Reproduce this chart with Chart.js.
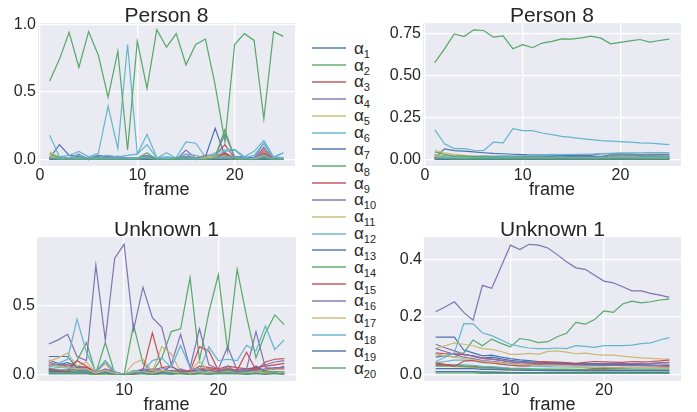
<!DOCTYPE html>
<html>
<head>
<meta charset="utf-8">
<script src="https://cdn.jsdelivr.net/npm/chart.js@4/dist/chart.umd.min.js"></script>
<style>
  body { margin: 0; width: 697px; height: 412px; overflow: hidden; position: relative; background: #fff;
         font-family: "Liberation Sans", Arial, sans-serif; color: #262626; }
  canvas { position: absolute; }
  .swatch { position: absolute; left: 312px; width: 34px; height: 2px; opacity: .7; }
  .lbl { position: absolute; left: 354px; height: 17px; line-height: 17px; font-size: 17px; white-space: nowrap; }
  .lbl sub { font-size: 11px; vertical-align: baseline; position: relative; top: 4px; line-height: 0; }
</style>
</head>
<body>
<canvas id="p8raw" width="300" height="205" style="left:0;top:0"></canvas>
<canvas id="p8mean" width="317" height="205" style="left:380px;top:0"></canvas>
<canvas id="u1raw" width="300" height="205" style="left:0;top:210px"></canvas>
<canvas id="u1mean" width="317" height="205" style="left:380px;top:210px"></canvas>
<div id="legend"></div>
<script>
// frames
const frames8 = [1,2,3,4,5,6,7,8,9,10,11,12,13,14,15,16,17,18,19,20,21,22,23,24,25];
const framesU = [2,3,4,5,6,7,8,9,10,11,12,13,14,15,16,17,18,19,20,21,22,23,24,25,26,27];

// Person 8, per frame (rows = alpha_1 .. alpha_20)
const person8Raw = [
  [0.01,0.11,0.03,0.02,0.01,0.03,0.02,0.02,0.01,0.01,0.02,0.01,0.01,0.01,0.02,0.01,0.02,0.23,0.03,0.02,0.02,0.01,0.02,0.01,0.01],
  [0.03,0.01,0.00,0.01,0.00,0.01,0.00,0.01,0.00,0.01,0.02,0.00,0.00,0.01,0.01,0.00,0.01,0.02,0.04,0.01,0.00,0.00,0.02,0.00,0.01],
  [0.02,0.01,0.00,0.01,0.00,0.01,0.01,0.00,0.00,0.00,0.01,0.00,0.00,0.00,0.01,0.01,0.03,0.03,0.11,0.01,0.01,0.00,0.07,0.00,0.00],
  [0.02,0.02,0.01,0.04,0.00,0.03,0.01,0.025,0.01,0.01,0.03,0.00,0.01,0.00,0.07,0.01,0.01,0.02,0.19,0.02,0.01,0.01,0.12,0.01,0.01],
  [0.055,0.02,0.00,0.01,0.00,0.01,0.00,0.01,0.00,0.00,0.01,0.00,0.00,0.00,0.01,0.00,0.02,0.04,0.03,0.01,0.00,0.00,0.055,0.00,0.00],
  [0.18,0.02,0.03,0.06,0.02,0.045,0.395,0.08,0.85,0.04,0.185,0.015,0.02,0.015,0.13,0.12,0.02,0.05,0.07,0.075,0.02,0.06,0.14,0.02,0.05],
  [0.01,0.01,0.00,0.00,0.00,0.01,0.00,0.00,0.00,0.00,0.00,0.00,0.00,0.00,0.00,0.00,0.00,0.01,0.02,0.00,0.00,0.00,0.01,0.00,0.00],
  [0.58,0.74,0.94,0.68,0.945,0.77,0.46,0.80,0.07,0.875,0.525,0.96,0.83,0.93,0.70,0.85,0.89,0.55,0.13,0.85,0.93,0.88,0.30,0.945,0.91],
  [0.01,0.00,0.00,0.00,0.00,0.01,0.00,0.00,0.00,0.00,0.01,0.00,0.00,0.00,0.00,0.00,0.01,0.02,0.04,0.00,0.00,0.00,0.03,0.00,0.00],
  [0.01,0.01,0.00,0.02,0.00,0.02,0.01,0.02,0.00,0.01,0.03,0.00,0.00,0.00,0.04,0.00,0.01,0.01,0.05,0.01,0.00,0.00,0.09,0.00,0.00],
  [0.03,0.01,0.00,0.01,0.00,0.00,0.00,0.00,0.00,0.00,0.01,0.00,0.00,0.00,0.00,0.00,0.01,0.02,0.02,0.00,0.00,0.00,0.04,0.00,0.00],
  [0.02,0.01,0.01,0.03,0.01,0.02,0.03,0.02,0.03,0.04,0.11,0.01,0.05,0.01,0.04,0.03,0.01,0.03,0.06,0.07,0.01,0.03,0.12,0.01,0.05],
  [0.00,0.01,0.00,0.00,0.00,0.01,0.00,0.01,0.00,0.00,0.01,0.00,0.00,0.00,0.01,0.00,0.00,0.02,0.01,0.00,0.00,0.00,0.01,0.00,0.00],
  [0.045,0.01,0.00,0.02,0.00,0.02,0.00,0.01,0.00,0.01,0.05,0.00,0.00,0.01,0.02,0.00,0.01,0.02,0.22,0.01,0.00,0.00,0.04,0.00,0.01],
  [0.01,0.00,0.00,0.00,0.00,0.00,0.00,0.00,0.00,0.00,0.01,0.00,0.00,0.00,0.00,0.00,0.01,0.01,0.05,0.00,0.00,0.00,0.05,0.00,0.00],
  [0.00,0.00,0.00,0.01,0.00,0.01,0.00,0.01,0.00,0.00,0.01,0.00,0.00,0.00,0.02,0.00,0.00,0.01,0.02,0.00,0.00,0.00,0.03,0.00,0.00],
  [0.02,0.00,0.00,0.00,0.00,0.00,0.00,0.00,0.00,0.00,0.00,0.00,0.00,0.00,0.00,0.00,0.01,0.02,0.01,0.00,0.00,0.00,0.03,0.00,0.00],
  [0.01,0.01,0.00,0.01,0.00,0.01,0.01,0.01,0.01,0.01,0.02,0.00,0.01,0.00,0.01,0.01,0.00,0.01,0.02,0.02,0.00,0.01,0.03,0.00,0.01],
  [0.00,0.00,0.00,0.00,0.00,0.00,0.00,0.00,0.00,0.00,0.00,0.00,0.00,0.00,0.00,0.00,0.00,0.00,0.00,0.00,0.00,0.00,0.00,0.00,0.00],
  [0.01,0.00,0.00,0.00,0.00,0.00,0.00,0.00,0.00,0.00,0.01,0.00,0.00,0.00,0.00,0.00,0.00,0.01,0.01,0.00,0.00,0.00,0.01,0.00,0.00]
];

// Person 8, running value
const person8Mean = [
  [0.01,0.063,0.053,0.05,0.045,0.04,0.036,0.034,0.031,0.029,0.028,0.027,0.026,0.025,0.025,0.024,0.024,0.035,0.034,0.033,0.032,0.031,0.031,0.03,0.03],
  [0.03,0.02,0.014,0.013,0.011,0.01,0.009,0.009,0.008,0.008,0.009,0.008,0.008,0.008,0.008,0.008,0.008,0.009,0.01,0.01,0.01,0.01,0.01,0.01,0.01],
  [0.02,0.015,0.01,0.01,0.008,0.008,0.008,0.007,0.006,0.006,0.006,0.005,0.005,0.005,0.005,0.005,0.007,0.008,0.013,0.013,0.013,0.012,0.015,0.014,0.014],
  [0.02,0.02,0.017,0.023,0.018,0.02,0.019,0.02,0.019,0.018,0.019,0.018,0.017,0.016,0.019,0.019,0.018,0.018,0.027,0.027,0.026,0.025,0.029,0.028,0.027],
  [0.055,0.04,0.03,0.025,0.02,0.018,0.016,0.015,0.013,0.012,0.012,0.011,0.01,0.01,0.01,0.009,0.01,0.011,0.012,0.012,0.011,0.011,0.013,0.012,0.012],
  [0.178,0.093,0.065,0.065,0.055,0.053,0.103,0.099,0.184,0.172,0.172,0.158,0.148,0.138,0.132,0.124,0.118,0.112,0.11,0.107,0.103,0.099,0.097,0.093,0.089],
  [0.01,0.01,0.007,0.005,0.004,0.005,0.004,0.004,0.003,0.003,0.003,0.003,0.003,0.002,0.002,0.002,0.002,0.003,0.004,0.004,0.004,0.004,0.004,0.004,0.004],
  [0.578,0.66,0.75,0.734,0.774,0.77,0.73,0.738,0.661,0.685,0.667,0.695,0.705,0.72,0.718,0.726,0.736,0.724,0.69,0.699,0.708,0.716,0.70,0.71,0.718],
  [0.01,0.005,0.003,0.003,0.002,0.003,0.003,0.002,0.002,0.002,0.003,0.003,0.002,0.002,0.002,0.002,0.003,0.004,0.006,0.006,0.006,0.005,0.006,0.006,0.006],
  [0.01,0.01,0.007,0.01,0.008,0.01,0.009,0.01,0.009,0.009,0.01,0.009,0.009,0.008,0.01,0.01,0.01,0.01,0.012,0.012,0.012,0.011,0.015,0.014,0.014],
  [0.03,0.02,0.013,0.012,0.01,0.008,0.007,0.006,0.006,0.005,0.006,0.005,0.005,0.005,0.004,0.004,0.005,0.006,0.007,0.006,0.006,0.006,0.008,0.007,0.007],
  [0.02,0.015,0.013,0.018,0.016,0.017,0.019,0.019,0.02,0.022,0.03,0.028,0.03,0.029,0.03,0.03,0.032,0.035,0.037,0.039,0.039,0.04,0.041,0.041,0.041],
  [0.003,0.005,0.004,0.003,0.003,0.004,0.003,0.004,0.004,0.003,0.004,0.004,0.004,0.003,0.004,0.004,0.004,0.005,0.005,0.005,0.005,0.005,0.005,0.005,0.005],
  [0.045,0.03,0.02,0.02,0.016,0.017,0.014,0.014,0.012,0.012,0.015,0.014,0.013,0.012,0.013,0.012,0.012,0.012,0.023,0.022,0.021,0.02,0.021,0.02,0.019],
  [0.01,0.005,0.004,0.003,0.002,0.002,0.002,0.002,0.002,0.002,0.002,0.002,0.002,0.002,0.002,0.002,0.002,0.003,0.005,0.005,0.005,0.005,0.007,0.007,0.007],
  [0.004,0.004,0.003,0.004,0.004,0.005,0.004,0.005,0.004,0.004,0.005,0.005,0.004,0.004,0.005,0.005,0.005,0.005,0.006,0.006,0.006,0.006,0.007,0.007,0.007],
  [0.02,0.01,0.007,0.005,0.004,0.004,0.003,0.003,0.003,0.002,0.002,0.002,0.002,0.002,0.002,0.002,0.002,0.003,0.004,0.004,0.004,0.004,0.005,0.005,0.005],
  [0.01,0.01,0.008,0.008,0.007,0.008,0.008,0.008,0.008,0.008,0.009,0.009,0.009,0.009,0.009,0.009,0.009,0.009,0.01,0.01,0.01,0.01,0.011,0.011,0.011],
  [0.001,0.001,0.001,0.001,0.001,0.001,0.001,0.001,0.001,0.001,0.001,0.001,0.001,0.001,0.001,0.001,0.001,0.001,0.001,0.001,0.001,0.001,0.001,0.001,0.001],
  [0.01,0.006,0.004,0.003,0.003,0.003,0.003,0.003,0.003,0.003,0.004,0.004,0.004,0.004,0.004,0.004,0.004,0.004,0.004,0.004,0.004,0.004,0.004,0.004,0.004]
];

// Unknown 1, per frame
const unknown1Raw = [
  [0.06,0.07,0.085,0.06,0.05,0.02,0.08,0.01,0.00,0.02,0.03,0.01,0.02,0.03,0.02,0.01,0.03,0.02,0.02,0.05,0.02,0.02,0.06,0.02,0.02,0.02],
  [0.07,0.06,0.05,0.10,0.23,0.01,0.23,0.01,0.00,0.36,0.08,0.02,0.12,0.31,0.33,0.70,0.10,0.45,0.72,0.17,0.76,0.42,0.12,0.30,0.43,0.36],
  [0.075,0.07,0.07,0.06,0.05,0.02,0.03,0.02,0.00,0.01,0.02,0.04,0.03,0.02,0.03,0.02,0.06,0.05,0.04,0.06,0.05,0.04,0.05,0.06,0.07,0.08],
  [0.105,0.08,0.06,0.04,0.03,0.01,0.04,0.02,0.00,0.02,0.04,0.03,0.05,0.02,0.03,0.02,0.04,0.03,0.02,0.06,0.02,0.03,0.04,0.07,0.09,0.10],
  [0.03,0.03,0.02,0.02,0.02,0.01,0.01,0.00,0.00,0.01,0.01,0.01,0.01,0.01,0.01,0.00,0.01,0.01,0.01,0.01,0.01,0.01,0.01,0.01,0.01,0.01],
  [0.04,0.05,0.06,0.05,0.04,0.01,0.03,0.01,0.00,0.01,0.02,0.02,0.02,0.02,0.02,0.01,0.02,0.02,0.02,0.02,0.02,0.02,0.02,0.02,0.02,0.02],
  [0.13,0.13,0.13,0.05,0.04,0.02,0.10,0.01,0.00,0.02,0.03,0.01,0.02,0.06,0.02,0.01,0.03,0.01,0.02,0.03,0.02,0.01,0.06,0.02,0.01,0.02],
  [0.01,0.01,0.01,0.01,0.01,0.00,0.01,0.00,0.00,0.01,0.01,0.00,0.01,0.01,0.01,0.01,0.01,0.01,0.01,0.02,0.01,0.01,0.01,0.01,0.01,0.01],
  [0.04,0.03,0.03,0.02,0.02,0.01,0.02,0.01,0.00,0.01,0.01,0.01,0.01,0.01,0.02,0.03,0.04,0.04,0.03,0.04,0.03,0.04,0.04,0.03,0.04,0.04],
  [0.22,0.25,0.29,0.13,0.10,0.79,0.25,0.84,0.94,0.32,0.63,0.41,0.34,0.07,0.29,0.05,0.33,0.07,0.04,0.20,0.03,0.04,0.31,0.05,0.04,0.06],
  [0.095,0.12,0.155,0.06,0.09,0.01,0.08,0.02,0.00,0.08,0.11,0.02,0.20,0.15,0.02,0.02,0.10,0.02,0.02,0.05,0.02,0.02,0.03,0.02,0.05,0.05],
  [0.03,0.03,0.04,0.03,0.03,0.01,0.02,0.01,0.00,0.01,0.01,0.01,0.02,0.01,0.01,0.01,0.01,0.01,0.02,0.01,0.01,0.01,0.01,0.01,0.01,0.01],
  [0.02,0.02,0.02,0.02,0.02,0.01,0.02,0.01,0.00,0.01,0.01,0.01,0.01,0.01,0.01,0.01,0.01,0.01,0.01,0.02,0.01,0.01,0.01,0.01,0.01,0.01],
  [0.03,0.03,0.03,0.02,0.02,0.01,0.02,0.01,0.00,0.02,0.01,0.01,0.02,0.02,0.02,0.01,0.02,0.01,0.02,0.03,0.02,0.02,0.02,0.02,0.02,0.02],
  [0.035,0.03,0.02,0.10,0.06,0.01,0.03,0.01,0.00,0.01,0.03,0.30,0.05,0.06,0.02,0.02,0.20,0.17,0.03,0.04,0.03,0.16,0.03,0.09,0.11,0.115],
  [0.09,0.07,0.05,0.03,0.03,0.01,0.03,0.01,0.00,0.02,0.02,0.02,0.03,0.02,0.04,0.02,0.03,0.03,0.02,0.04,0.02,0.03,0.03,0.04,0.05,0.05],
  [0.07,0.06,0.05,0.04,0.04,0.01,0.03,0.01,0.00,0.02,0.02,0.01,0.03,0.02,0.01,0.01,0.02,0.01,0.01,0.02,0.01,0.01,0.02,0.01,0.01,0.02],
  [0.05,0.08,0.11,0.40,0.16,0.02,0.10,0.02,0.00,0.03,0.02,0.10,0.12,0.05,0.21,0.05,0.03,0.20,0.10,0.11,0.10,0.21,0.17,0.35,0.18,0.25],
  [0.01,0.01,0.01,0.01,0.01,0.00,0.01,0.00,0.00,0.00,0.01,0.00,0.01,0.00,0.01,0.00,0.01,0.00,0.01,0.01,0.01,0.00,0.01,0.00,0.01,0.00],
  [0.005,0.005,0.005,0.005,0.005,0.00,0.005,0.00,0.00,0.005,0.005,0.00,0.005,0.005,0.005,0.00,0.005,0.005,0.005,0.005,0.005,0.005,0.005,0.005,0.005,0.005]
];

// Unknown 1, running value
const unknown1Mean = [
  [0.06,0.065,0.072,0.069,0.065,0.057,0.06,0.054,0.049,0.046,0.044,0.041,0.039,0.038,0.037,0.035,0.034,0.033,0.032,0.032,0.032,0.031,0.032,0.031,0.031,0.03],
  [0.07,0.065,0.06,0.075,0.12,0.10,0.123,0.108,0.096,0.125,0.12,0.111,0.114,0.131,0.143,0.181,0.175,0.191,0.221,0.216,0.245,0.255,0.249,0.253,0.259,0.262],
  [0.075,0.072,0.072,0.069,0.065,0.057,0.053,0.049,0.044,0.041,0.039,0.039,0.038,0.037,0.036,0.035,0.036,0.037,0.037,0.038,0.038,0.038,0.039,0.039,0.04,0.041],
  [0.105,0.093,0.082,0.071,0.063,0.055,0.053,0.049,0.044,0.042,0.042,0.041,0.041,0.039,0.039,0.038,0.038,0.038,0.037,0.038,0.037,0.037,0.037,0.038,0.04,0.042],
  [0.03,0.03,0.027,0.025,0.024,0.021,0.019,0.017,0.015,0.015,0.014,0.014,0.014,0.013,0.013,0.012,0.012,0.012,0.012,0.012,0.012,0.012,0.012,0.012,0.012,0.012],
  [0.04,0.045,0.05,0.05,0.048,0.042,0.04,0.036,0.032,0.03,0.029,0.028,0.027,0.026,0.026,0.025,0.025,0.025,0.024,0.024,0.024,0.024,0.024,0.024,0.024,0.024],
  [0.13,0.13,0.13,0.085,0.075,0.065,0.067,0.06,0.055,0.051,0.048,0.045,0.042,0.04,0.039,0.038,0.037,0.036,0.035,0.035,0.034,0.034,0.033,0.033,0.032,0.032],
  [0.01,0.01,0.01,0.01,0.01,0.008,0.008,0.007,0.006,0.006,0.006,0.006,0.006,0.006,0.006,0.006,0.007,0.007,0.007,0.007,0.007,0.007,0.007,0.007,0.007,0.007],
  [0.04,0.035,0.033,0.03,0.028,0.025,0.024,0.022,0.02,0.019,0.018,0.017,0.017,0.016,0.016,0.017,0.018,0.02,0.021,0.022,0.023,0.024,0.025,0.025,0.026,0.027],
  [0.218,0.235,0.253,0.216,0.189,0.31,0.30,0.375,0.45,0.435,0.453,0.45,0.44,0.417,0.392,0.371,0.366,0.345,0.325,0.319,0.305,0.291,0.291,0.282,0.276,0.268],
  [0.09,0.10,0.11,0.105,0.10,0.09,0.087,0.08,0.07,0.07,0.073,0.07,0.08,0.082,0.078,0.072,0.074,0.07,0.067,0.067,0.064,0.06,0.058,0.056,0.054,0.053],
  [0.03,0.03,0.033,0.033,0.032,0.028,0.027,0.025,0.022,0.021,0.02,0.019,0.019,0.018,0.018,0.017,0.017,0.017,0.017,0.017,0.016,0.016,0.016,0.016,0.016,0.016],
  [0.02,0.02,0.02,0.02,0.02,0.018,0.018,0.017,0.015,0.015,0.014,0.014,0.013,0.013,0.013,0.013,0.013,0.013,0.013,0.013,0.013,0.013,0.013,0.013,0.013,0.013],
  [0.03,0.03,0.03,0.028,0.026,0.024,0.023,0.021,0.019,0.019,0.018,0.018,0.018,0.018,0.018,0.018,0.018,0.018,0.018,0.019,0.019,0.019,0.019,0.019,0.019,0.019],
  [0.035,0.033,0.028,0.046,0.049,0.042,0.04,0.036,0.032,0.03,0.03,0.045,0.044,0.043,0.041,0.039,0.042,0.045,0.044,0.043,0.042,0.045,0.044,0.045,0.047,0.05],
  [0.09,0.08,0.07,0.06,0.055,0.048,0.046,0.042,0.038,0.036,0.035,0.034,0.033,0.033,0.033,0.032,0.032,0.032,0.031,0.032,0.031,0.031,0.031,0.031,0.032,0.033],
  [0.07,0.065,0.06,0.055,0.052,0.045,0.043,0.04,0.036,0.034,0.033,0.031,0.031,0.03,0.029,0.028,0.027,0.026,0.026,0.025,0.025,0.024,0.024,0.024,0.023,0.023],
  [0.045,0.06,0.075,0.177,0.176,0.145,0.135,0.12,0.105,0.098,0.092,0.09,0.09,0.092,0.09,0.1,0.098,0.094,0.1,0.1,0.1,0.102,0.107,0.11,0.12,0.128],
  [0.01,0.01,0.01,0.01,0.01,0.008,0.008,0.007,0.006,0.006,0.006,0.006,0.006,0.006,0.006,0.006,0.006,0.006,0.006,0.006,0.006,0.006,0.006,0.006,0.006,0.006],
  [0.005,0.005,0.005,0.005,0.005,0.004,0.004,0.004,0.004,0.004,0.004,0.004,0.004,0.004,0.004,0.004,0.004,0.004,0.004,0.004,0.004,0.004,0.004,0.004,0.004,0.004]
];

// tick values
const xTicks8 = [0, 10, 20];
const xTicksU = [10, 20];
const yTicksP8Raw = [0, 0.5, 1.0];
const yTicksP8Mean = [0, 0.25, 0.5, 0.75];
const yTicksU1Raw = [0, 0.5];
const yTicksU1Mean = [0, 0.2, 0.4];

const palette = ['#4C72B0', '#55A868', '#C44E52', '#8172B2', '#CCB974', '#64B5CD'];
const alphaIdx = person8Raw.map((r, i) => i + 1);

const FONT = '"Liberation Sans", Arial, sans-serif';
const INK = '#262626';
Chart.defaults.font.family = FONT;
Chart.defaults.color = INK;

// grey plot background
const plotBg = {
  id: 'plotBg',
  beforeDraw(chart) {
    const { ctx, chartArea: a } = chart;
    ctx.save();
    ctx.fillStyle = '#EAEAF2';
    ctx.fillRect(a.left, a.top, a.right - a.left, a.bottom - a.top);
    ctx.restore();
  }
};

function panel(id, title, frames, rows, xTicks, yTicks, dec, xr, yr, box) {
  const datasets = rows.map((r, i) => ({
    label: 'α' + alphaIdx[i],
    data: r.map((v, k) => ({ x: frames[k], y: v })),
    borderColor: palette[i % 6],
    borderWidth: 1.2,
    pointRadius: 0,
    tension: 0,
    fill: false,
    order: rows.length - i
  }));
  return new Chart(document.getElementById(id), {
    type: 'line',
    data: { datasets },
    options: {
      responsive: false,
      animation: false,
      events: [],
      layout: { padding: { left: 0, right: box.padR, top: box.padT, bottom: 0 } },
      plugins: {
        legend: { display: false },
        tooltip: { enabled: false },
        title: {
          display: true, text: title, color: INK, fullSize: false,
          font: { size: 21, weight: 'normal', lineHeight: 0.7 },
          padding: { top: 8.4, bottom: 0 }
        }
      },
      scales: {
        x: {
          type: 'linear', min: xr[0], max: xr[1],
          afterFit: s => { s.height = box.xH; },
          afterBuildTicks: s => { s.ticks = xTicks.map(v => ({ value: v })); },
          grid: { color: '#ffffff', lineWidth: 1.3, drawTicks: false },
          border: { display: false },
          ticks: { color: INK, padding: 0, font: { size: 16, lineHeight: 1.2 }, callback: v => String(v) },
          title: { display: true, text: 'frame', color: INK, font: { size: 18, lineHeight: 1 }, padding: { top: 0, bottom: box.tPad } }
        },
        y: {
          type: 'linear', min: yr[0], max: yr[1],
          afterFit: s => { s.width = box.yW; },
          afterBuildTicks: s => { s.ticks = yTicks.map(v => ({ value: v })); },
          grid: { color: '#ffffff', lineWidth: 1.3, drawTicks: false },
          border: { display: false },
          ticks: { color: INK, padding: 2, font: { size: 16 }, callback: v => Number(v).toFixed(dec) }
        }
      }
    },
    plugins: [plotBg]
  });
}

panel('p8raw', 'Person 8', frames8, person8Raw, xTicks8, yTicksP8Raw, 1, [-0.2, 26.2], [-0.048, 1.008],
      { padR: 5, padT: 0, yW: 38, xH: 39, tPad: 6.2 });
panel('p8mean', 'Person 8', frames8, person8Mean, xTicks8, yTicksP8Mean, 2, [-0.2, 26.2], [-0.039, 0.814],
      { padR: 16, padT: 0, yW: 43, xH: 39, tPad: 6.2 });
panel('u1raw', 'Unknown 1', framesU, unknown1Raw, xTicksU, yTicksU1Raw, 1, [0.75, 28.25], [-0.047, 0.992],
      { padR: 4, padT: 4, yW: 37, xH: 34, tPad: 1.2 });
panel('u1mean', 'Unknown 1', framesU, unknown1Mean, xTicksU, yTicksU1Mean, 1, [0.75, 28.25], [-0.0228, 0.478],
      { padR: 16, padT: 4, yW: 44, xH: 34, tPad: 1.2 });

// shared legend between the columns
const legend = document.getElementById('legend');
alphaIdx.forEach((n, i) => {
  const cy = 48.3 + 16.84 * i;
  const sw = document.createElement('div');
  sw.className = 'swatch';
  sw.style.top = (cy - 1) + 'px';
  sw.style.background = palette[i % 6];
  legend.appendChild(sw);
  const t = document.createElement('div');
  t.className = 'lbl';
  t.style.top = (cy - 8.5) + 'px';
  t.innerHTML = 'α<sub>' + n + '</sub>';
  legend.appendChild(t);
});
</script>
</body>
</html>
